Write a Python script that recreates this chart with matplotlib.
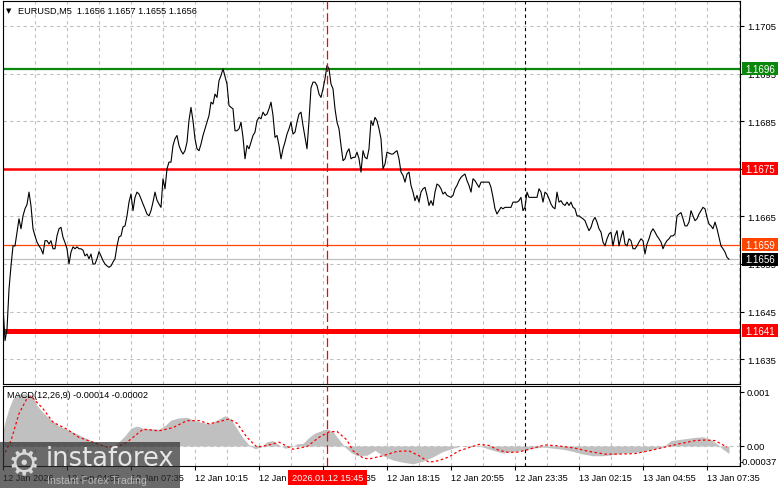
import numpy as np
import matplotlib
matplotlib.use("Agg")
import matplotlib.pyplot as plt
import matplotlib.transforms as mtrans
from matplotlib.patches import Rectangle

plt.rcParams['font.family'] = ['Liberation Sans', 'DejaVu Sans']

# EURUSD M5 close, one value per bar starting 12 Jan 02:15
close = [
    1.16462, 1.16389, 1.16413, 1.16497, 1.16546, 1.16588, 1.16588, 1.16617, 1.16645, 1.16624,
    1.16651, 1.16666, 1.16675, 1.16701, 1.16672, 1.16624, 1.16609, 1.16596, 1.16588, 1.16582,
    1.16571, 1.16599, 1.16599, 1.16592, 1.16599, 1.16582, 1.16582, 1.16609, 1.16624, 1.16627,
    1.16606, 1.16595, 1.16582, 1.16550, 1.16575, 1.16586, 1.16582, 1.16586, 1.16582, 1.16582,
    1.16579, 1.16567, 1.16571, 1.16561, 1.16571, 1.16550, 1.16550, 1.16561, 1.16576, 1.16567,
    1.16557, 1.16550, 1.16546, 1.16543, 1.16546, 1.16554, 1.16561, 1.16588, 1.16607, 1.16609,
    1.16628, 1.16630, 1.16651, 1.16680, 1.16697, 1.16662, 1.16690, 1.16701, 1.16697, 1.16687,
    1.16676, 1.16666, 1.16655, 1.16651, 1.16662, 1.16680, 1.16701, 1.16684, 1.16676, 1.16669,
    1.16729, 1.16708, 1.16750, 1.16764, 1.16764, 1.16799, 1.16813, 1.16820, 1.16799, 1.16788,
    1.16781, 1.16788, 1.16806, 1.16852, 1.16879, 1.16851, 1.16813, 1.16792, 1.16788, 1.16802,
    1.16820, 1.16834, 1.16848, 1.16862, 1.16890, 1.16886, 1.16907, 1.16900, 1.16935, 1.16946,
    1.16960, 1.16944, 1.16928, 1.16883, 1.16879, 1.16876, 1.16830, 1.16830, 1.16834, 1.16848,
    1.16816, 1.16771, 1.16799, 1.16792, 1.16806, 1.16820, 1.16827, 1.16851, 1.16858, 1.16855,
    1.16869, 1.16862, 1.16865, 1.16876, 1.16890, 1.16862, 1.16816, 1.16820, 1.16799, 1.16771,
    1.16792, 1.16806, 1.16823, 1.16834, 1.16848, 1.16823, 1.16827, 1.16848, 1.16865, 1.16869,
    1.16841, 1.16816, 1.16792, 1.16851, 1.16920, 1.16932, 1.16932, 1.16925, 1.16907, 1.16900,
    1.16918, 1.16939, 1.16967, 1.16960, 1.16928, 1.16918, 1.16876, 1.16848, 1.16834, 1.16799,
    1.16767, 1.16771, 1.16785, 1.16792, 1.16771, 1.16774, 1.16774, 1.16785, 1.16771, 1.16743,
    1.16788, 1.16774, 1.16771, 1.16792, 1.16851, 1.16841, 1.16858, 1.16851, 1.16834, 1.16813,
    1.16750, 1.16760, 1.16785, 1.16783, 1.16781, 1.16781, 1.16785, 1.16788, 1.16771, 1.16743,
    1.16736, 1.16722, 1.16739, 1.16743, 1.16715, 1.16701, 1.16683, 1.16694, 1.16680, 1.16701,
    1.16708, 1.16711, 1.16694, 1.16673, 1.16683, 1.16673, 1.16701, 1.16718, 1.16715, 1.16708,
    1.16697, 1.16701, 1.16694, 1.16692, 1.16690, 1.16694, 1.16708, 1.16715, 1.16725, 1.16732,
    1.16736, 1.16739, 1.16725, 1.16715, 1.16701, 1.16729, 1.16725, 1.16718, 1.16711, 1.16722,
    1.16722, 1.16722, 1.16722, 1.16722, 1.16711, 1.16690, 1.16666, 1.16655, 1.16662, 1.16669,
    1.16666, 1.16669, 1.16669, 1.16669, 1.16669, 1.16680, 1.16680, 1.16680, 1.16683, 1.16690,
    1.16662, 1.16669, 1.16701, 1.16690, 1.16690, 1.16690, 1.16690, 1.16690, 1.16708, 1.16701,
    1.16680, 1.16701, 1.16697, 1.16687, 1.16676, 1.16669, 1.16666, 1.16701, 1.16680, 1.16683,
    1.16676, 1.16673, 1.16680, 1.16673, 1.16680, 1.16669, 1.16666, 1.16651, 1.16651, 1.16648,
    1.16645, 1.16641, 1.16630, 1.16620, 1.16627, 1.16641, 1.16648, 1.16638, 1.16624, 1.16617,
    1.16596, 1.16588, 1.16603, 1.16613, 1.16617, 1.16588, 1.16609, 1.16620, 1.16588, 1.16606,
    1.16620, 1.16592, 1.16588, 1.16603, 1.16599, 1.16582, 1.16582, 1.16588, 1.16596, 1.16603,
    1.16599, 1.16571, 1.16592, 1.16603, 1.16617, 1.16624, 1.16617, 1.16609, 1.16603, 1.16596,
    1.16582, 1.16592, 1.16599, 1.16603, 1.16609, 1.16609, 1.16613, 1.16651, 1.16655, 1.16658,
    1.16645, 1.16630, 1.16630, 1.16638, 1.16662, 1.16651, 1.16641, 1.16645, 1.16655, 1.16662,
    1.16669, 1.16666, 1.16648, 1.16634, 1.16630, 1.16624, 1.16638, 1.16624, 1.16606, 1.16588,
    1.16582, 1.16575, 1.16564, 1.16560,
]

# MACD main (histogram) and signal, read at sample bars
macd_bar = [0, 1, 3, 5, 8, 12, 15, 17, 20, 24, 28, 32, 36, 40, 44, 48, 52, 55, 58, 61,
            64, 67, 70, 74, 78, 81, 84, 88, 92, 96, 99, 103, 107, 111, 114, 117, 120, 123, 126, 129,
            132, 135, 138, 141, 144, 147, 150, 153, 156, 159, 162, 165, 168, 171, 174, 177, 182, 186, 190, 195,
            200, 205, 210, 215, 220, 225, 230, 235, 240, 245, 250, 255, 260, 265, 270, 275, 280, 285, 290, 295,
            300, 305, 310, 315, 320, 325, 330, 334, 338, 342, 346, 350, 354, 357, 360, 363]
macd_val = [0.00030, 0.00045, 0.00070, 0.00088, 0.00096, 0.00097, 0.00093, 0.00075, 0.00062, 0.00048,
            0.00037, 0.00030, 0.00024, 0.00017, 0.00010, 0.00004, 0.00000, -0.00001, 0.00008, 0.00019,
            0.00033, 0.00037, 0.00033, 0.00032, 0.00031, 0.00038, 0.00048, 0.00052, 0.00053, 0.00047,
            0.00044, 0.00041, 0.00048, 0.00056, 0.00050, 0.00032, 0.00015, 0.00002, -0.00005, -0.00002,
            0.00008, 0.00010, 0.00002, -0.00004, -0.00002, 0.00004, 0.00005, 0.00016, 0.00024, 0.00028,
            0.00032, 0.00026, 0.00012, -0.00002, -0.00012, -0.00018, -0.00017, -0.00008, -0.00018, -0.00026,
            -0.00030, -0.00033, -0.00028, -0.00020, -0.00010, -0.00004, 0.00001, 0.00001, -0.00002, -0.00008,
            -0.00013, -0.00010, -0.00008, -0.00004, -0.00002, -0.00004, -0.00006, -0.00010, -0.00015, -0.00018,
            -0.00018, -0.00016, -0.00013, -0.00012, -0.00010, -0.00006, -0.00002, 0.00010, 0.00012, 0.00014,
            0.00016, 0.00017, 0.00012, 0.00004, -0.00006, -0.00014]

sig_bar = [0, 4, 8, 12, 14, 20, 25, 32, 38, 45, 52, 57, 62, 67, 70, 78, 85, 92, 98, 103,
           108, 113, 117, 122, 127, 132, 138, 145, 152, 158, 163, 167, 172, 175, 180, 183, 190, 197, 203, 208,
           213, 218, 223, 228, 233, 238, 243, 248, 253, 258, 263, 271, 278, 286, 293, 301, 308, 316, 323, 331,
           338, 346, 351, 356, 359, 362]
sig_val = [-0.00020, 0.00010, 0.00060, 0.00088, 0.00092, 0.00069, 0.00044, 0.00031, 0.00016, 0.00007,
           -0.00002, -0.00002, 0.00007, 0.00022, 0.00031, 0.00028, 0.00034, 0.00047, 0.00047, 0.00041,
           0.00045, 0.00050, 0.00042, 0.00016, -0.00002, 0.00001, 0.00007, -0.00006, -0.00001, 0.00016,
           0.00026, 0.00027, 0.00011, -0.00009, -0.00022, -0.00024, -0.00018, -0.00010, -0.00009, -0.00018,
           -0.00030, -0.00027, -0.00020, -0.00009, -0.00003, 0.00003, 0.00001, -0.00008, -0.00012, -0.00011,
           -0.00006, 0.00002, 0.00000, -0.00004, -0.00010, -0.00015, -0.00015, -0.00014, -0.00009, -0.00002,
           0.00004, 0.00010, 0.00011, 0.00010, 0.00004, -0.00002]

price_ticks = [1.1635, 1.1645, 1.1655, 1.1665, 1.1675, 1.1685, 1.1695, 1.1705]
price_labels = ['1.1635', '1.1645', '1.1655', '1.1665', '', '1.1685', '1.1695', '1.1705']
time_ticks = [0, 32, 64, 96, 128, 160, 192, 224, 256, 288, 320, 352]
time_labels = ['12 Jan 2026', '12 Jan 04:55', '12 Jan 07:35', '12 Jan 10:15', '12 Jan 12:55',
               '12 Jan 15:35', '12 Jan 18:15', '12 Jan 20:55', '12 Jan 23:35', '13 Jan 02:15',
               '13 Jan 04:55', '13 Jan 07:35']
levels = [1.1696, 1.1675, 1.1659, 1.1641]
level_colors = ['#0b870b', '#ff0000', '#ff4500', '#ff0000']
level_widths = [1.6, 1.8, 0.9, 3.6]
last_price = 1.1656
cross_bar = 162      # 2026.01.12 15:45
day_bar = 261        # 13 Jan 00:00

W, H = 781, 489
fig = plt.figure(figsize=(W / 100, H / 100), dpi=100)
fig.patch.set_facecolor('white')


def rect(l, t, r, b):
    return [l / W, 1 - b / H, (r - l) / W, (b - t) / H]


grid_kw = dict(color='#c0c0c0', linestyle=(0, (3, 3)), linewidth=0.8)

# ---- price panel
ax = fig.add_axes(rect(3, 2, 740, 385))
bars = np.arange(len(close))
ax.set_xlim(0, 368.5)
ax.set_ylim(1.162979, 1.171025)
ax.set_xticks(time_ticks)
ax.set_xticks([t + 16 for t in time_ticks], minor=True)
ax.set_yticks(price_ticks)
ax.set_yticklabels(price_labels)
ax.grid(True, which='both', **grid_kw)
ax.set_axisbelow(True)
ax.tick_params(axis='x', which='both', length=0, labelbottom=False)
ax.tick_params(axis='y', left=False, labelleft=False, right=True, labelright=True,
               length=3, width=0.8, pad=2, labelsize=6.8)

for lvl, c, lw in zip(levels, level_colors, level_widths):
    ax.axhline(lvl, color=c, lw=lw, zorder=2)
ax.axhline(last_price, color='#c0c0c0', lw=0.9, zorder=2)
ax.plot(bars, close, color='black', lw=0.8, zorder=3)
ax.axvline(cross_bar, color='red', lw=0.9, linestyle=(0, (7, 3)), zorder=4)
ax.axvline(day_bar, color='black', lw=0.8, linestyle=(0, (3, 3)), zorder=4)
for s in ax.spines.values():
    s.set_linewidth(0.8)

# price tags on the right scale
trans = mtrans.blended_transform_factory(ax.transAxes, ax.transData)
px_y = (1.171025 - 1.162979) / 383
tag_w = 36 / 737
for lvl, c in zip(levels + [last_price], level_colors + ['black']):
    ax.add_patch(Rectangle((1.0027, lvl - 6.5 * px_y), tag_w, 13 * px_y, transform=trans,
                           facecolor=c, edgecolor='none', clip_on=False, zorder=5))
    ax.text(1.0027 + 3 / 737, lvl, '%.4f' % lvl, transform=trans, ha='left', va='center',
            color='white', fontsize=7, clip_on=False, zorder=6)

fig.text(6 / W, 1 - 11 / H, '\u25bc', fontsize=5, va='center', ha='left', family='DejaVu Sans')
fig.text(18 / W, 1 - 11 / H, 'EURUSD,M5  1.1656 1.1657 1.1655 1.1656', fontsize=6.6,
         va='center', ha='left')

# ---- MACD panel
ax2 = fig.add_axes(rect(3, 387, 740, 467))
ax2.set_xlim(0, 368.5)
ax2.set_ylim(-0.00037, 0.00111)
ax2.set_xticks(time_ticks)
ax2.set_xticks([t + 16 for t in time_ticks], minor=True)
ax2.set_xticklabels(time_labels, ha='left')
ax2.grid(True, axis='x', which='both', **grid_kw)
ax2.axhline(0, **grid_kw, zorder=0)
ax2.set_axisbelow(True)
ax2.tick_params(axis='x', which='major', length=3, width=0.8, pad=2, labelsize=6.6)
ax2.tick_params(axis='x', which='minor', length=0)
ax2.set_yticks([0.001, 0.0])
ax2.set_yticklabels(['0.001', '0.00'])
ax2.tick_params(axis='y', left=False, labelleft=False, right=True, labelright=True,
                length=3, width=0.8, pad=2, labelsize=6.8)
ax2.text(1.0, -0.00028, '-0.00037', transform=mtrans.blended_transform_factory(ax2.transAxes, ax2.transData),
         ha='left', va='center', fontsize=6.8, clip_on=False)
ax2.fill_between(macd_bar, 0, macd_val, color='#c0c0c0', lw=0, zorder=1)
ax2.plot(sig_bar, sig_val, color='red', lw=0.9, linestyle=(0, (2, 2)), zorder=2)
ax2.axvline(cross_bar, color='red', lw=0.9, linestyle=(0, (7, 3)), zorder=4)
ax2.axvline(day_bar, color='black', lw=0.8, linestyle=(0, (3, 3)), zorder=4)
for s in ax2.spines.values():
    s.set_linewidth(0.8)
fig.text(7 / W, 1 - 395 / H, 'MACD(12,26,9) -0.00014 -0.00002', fontsize=6.6, va='center', ha='left')

# crosshair time tag
fig.patches.append(Rectangle((288 / W, 1 - 486 / H), 79 / W, 15 / H, transform=fig.transFigure,
                             facecolor='red', edgecolor='none', zorder=5))
fig.text(327.5 / W, 1 - 478.5 / H, '2026.01.12 15:45', color='white', fontsize=6.6,
         ha='center', va='center', zorder=6)

# watermark
fig.patches.append(Rectangle((0, 0), 180 / W, 46 / H, transform=fig.transFigure,
                             facecolor='#303030', alpha=0.72, edgecolor='none', zorder=7))
fig.text(24 / W, 1 - 464 / H, '\u2699', family='DejaVu Sans', fontsize=26, color='#d8d8d8',
         ha='center', va='center', zorder=8)
fig.text(46 / W, 1 - 459 / H, 'instaforex', family='DejaVu Sans', fontsize=18.5, color='#e6e6e6',
         ha='left', va='center', zorder=8)
fig.text(47 / W, 1 - 481 / H, 'Instant Forex Trading', fontsize=7.6, color='#b8b8b8',
         ha='left', va='center', zorder=8)

fig.savefig('out.png', dpi=100)
